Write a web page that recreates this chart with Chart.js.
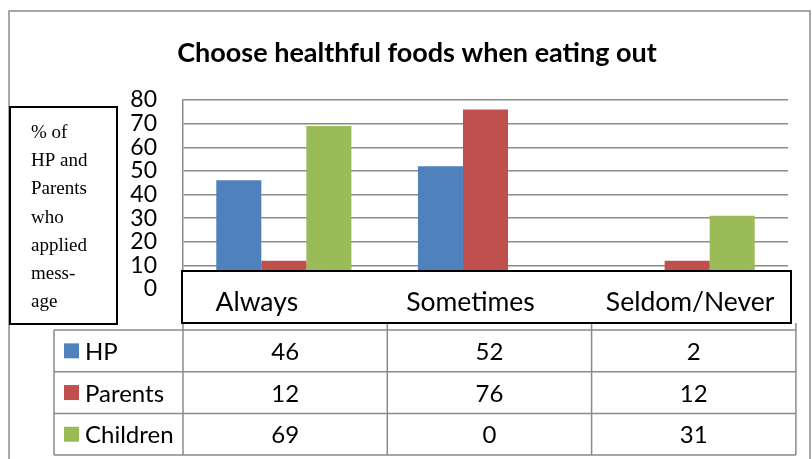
<!DOCTYPE html>
<html>
<head>
<meta charset="utf-8">
<script src="https://cdn.jsdelivr.net/npm/chart.js@4.4.1/dist/chart.umd.min.js"></script>
<style>
    body { margin: 0; background: #fff; }
    canvas { display: block; }
</style>
</head>
<body>
<canvas id="chart-eating-out" width="812" height="459"></canvas>
<script>
    const categories = ['Always', 'Sometimes', 'Seldom/Never'];
    const seriesNames = ['HP', 'Parents', 'Children'];
    const hpValues = [46, 52, 2];
    const parentValues = [12, 76, 12];
    const childValues = [69, 0, 31];
    const seriesColors = ['#4f81bd', '#c0504d', '#9bbb59'];
    const axisLabelLines = ['% of', 'HP and', 'Parents', 'who', 'applied', 'mess-', 'age'];
    const chartTitle = 'Choose healthful foods when eating out';

    const seriesValues = [hpValues, parentValues, childValues];
    const FONT = 'Lato, "Open Sans", sans-serif';
    const GRID = '#8a8a8a';

    // title, y label box, category strip and data table are drawn around the plot
    const framePlugin = {
        id: 'frame',
        afterDraw(chart) {
            const ctx = chart.ctx;
            const xScale = chart.scales.x;

            ctx.save();

            // outer chart border
            ctx.strokeStyle = GRID;
            ctx.lineWidth = 1.5;
            ctx.beginPath();
            ctx.moveTo(9, 459);
            ctx.lineTo(9, 11);
            ctx.lineTo(810, 11);
            ctx.lineTo(810, 459);
            ctx.stroke();

            // title
            ctx.fillStyle = '#000';
            ctx.font = 'bold 27px ' + FONT;
            ctx.textAlign = 'center';
            ctx.textBaseline = 'alphabetic';
            ctx.fillText(chartTitle, 417, 62);

            // y label box
            ctx.fillStyle = '#fff';
            ctx.fillRect(10, 107, 107, 217);
            ctx.strokeStyle = '#000';
            ctx.lineWidth = 2;
            ctx.strokeRect(10, 107, 107, 217);
            ctx.fillStyle = '#000';
            ctx.font = '19px "Liberation Serif", "Times New Roman", serif';
            ctx.textAlign = 'left';
            axisLabelLines.forEach((line, i) => {
                ctx.fillText(line, 31, 138 + i * 28.2);
            });

            // table column lines reach up to the category strip
            const tableTop = 330;
            const rowHeight = 41.7;
            const tableLeft = 54;
            const colLeft = 183;
            const colWidth = 204.3;
            const tableBottom = tableTop + rowHeight * seriesNames.length;

            ctx.strokeStyle = GRID;
            ctx.lineWidth = 1.5;
            ctx.beginPath();
            for (let c = 0; c <= categories.length; c++) {
                const cx = colLeft + c * colWidth;
                ctx.moveTo(cx, 323);
                ctx.lineTo(cx, tableBottom);
            }
            ctx.moveTo(tableLeft, tableTop);
            ctx.lineTo(tableLeft, tableBottom);
            for (let r = 0; r <= seriesNames.length; r++) {
                const ry = tableTop + r * rowHeight;
                ctx.moveTo(tableLeft, ry);
                ctx.lineTo(colLeft + categories.length * colWidth, ry);
            }
            ctx.stroke();

            // category strip over the bottom of the plot
            ctx.fillStyle = '#fff';
            ctx.fillRect(182, 271, 609, 52);
            ctx.strokeStyle = '#000';
            ctx.lineWidth = 2;
            ctx.strokeRect(182, 271, 609, 52);

            const labelShift = [-27, -15, 3];
            ctx.fillStyle = '#000';
            ctx.font = '26.5px ' + FONT;
            ctx.textAlign = 'center';
            categories.forEach((cat, i) => {
                ctx.fillText(cat, xScale.getPixelForValue(i) + labelShift[i], 311);
            });

            // data table rows
            ctx.font = '24px ' + FONT;
            seriesNames.forEach((name, r) => {
                const midY = tableTop + r * rowHeight + rowHeight / 2;
                ctx.fillStyle = seriesColors[r];
                ctx.fillRect(64, midY - 7.5, 15, 15);
                ctx.fillStyle = '#000';
                ctx.textAlign = 'left';
                ctx.fillText(name, 85, midY + 9);
                ctx.textAlign = 'center';
                seriesValues[r].forEach((v, c) => {
                    ctx.fillText(String(v), colLeft + c * colWidth + colWidth / 2, midY + 9);
                });
            });

            ctx.restore();
        }
    };

    new Chart(document.getElementById('chart-eating-out'), {
        type: 'bar',
        data: {
            labels: categories,
            datasets: seriesNames.map((name, i) => ({
                label: name,
                data: seriesValues[i],
                backgroundColor: seriesColors[i],
                borderWidth: 0,
                categoryPercentage: 0.67,
                barPercentage: 1
            }))
        },
        options: {
            responsive: false,
            animation: false,
            devicePixelRatio: 1,
            layout: {
                padding: { left: 113, right: 24, top: 100, bottom: 170 }
            },
            scales: {
                x: {
                    display: false
                },
                y: {
                    min: 0,
                    max: 80,
                    ticks: {
                        stepSize: 10,
                        autoSkip: false,
                        padding: 26,
                        color: '#000',
                        font: { family: FONT, size: 23 }
                    },
                    grid: {
                        color: GRID,
                        lineWidth: 1.5,
                        drawTicks: false
                    },
                    border: { color: GRID, width: 1.5 },
                    afterFit(scale) {
                        scale.width = 70;
                    }
                }
            },
            plugins: {
                legend: { display: false },
                tooltip: { enabled: false }
            }
        },
        plugins: [framePlugin]
    });
</script>
</body>
</html>
